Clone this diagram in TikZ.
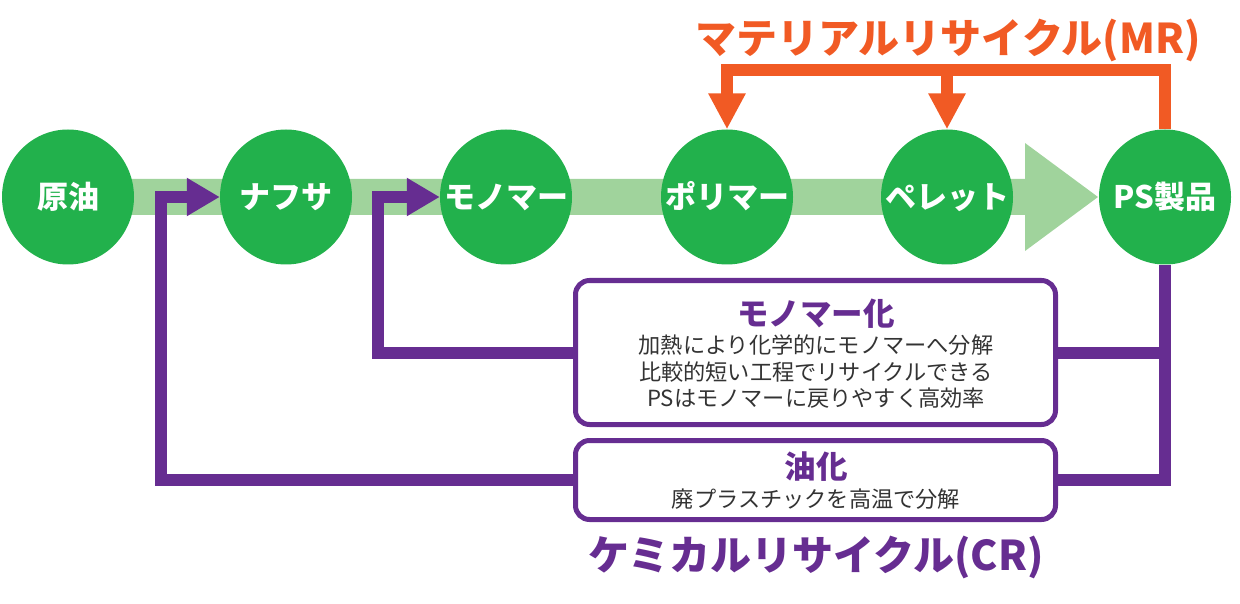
\documentclass[tikz,border=0pt]{standalone}
\usepackage{fontspec}
\setmainfont{Noto Sans CJK JP}
\usetikzlibrary{arrows.meta,shapes.geometric}
\definecolor{cgreen}{RGB}{34,177,76}
\definecolor{lgreen}{RGB}{160,211,156}
\definecolor{cpurple}{RGB}{102,45,145}
\definecolor{corange}{RGB}{241,90,36}
\definecolor{ctext}{RGB}{51,51,51}
\begin{document}
\begin{tikzpicture}[x=1pt,y=-1pt,
  stage/.style={ellipse, fill=cgreen, minimum width=132pt, minimum height=135pt, inner sep=0pt},
  stagetext/.style={text=white, font=\fontsize{31}{31}\selectfont\bfseries, inner sep=0pt, anchor=base},
  recbox/.style={draw=cpurple, line width=5pt, fill=white, rounded corners=14pt, inner sep=0pt, minimum width=480pt},
  bhead/.style={text=cpurple, font=\fontsize{31.5}{31.5}\selectfont\bfseries, inner sep=0pt, anchor=base},
  btext/.style={text=ctext, font=\fontsize{22.2}{22.2}\selectfont, inner sep=0pt, anchor=base},
  titletext/.style={font=\fontsize{41}{41}\selectfont\bfseries, inner sep=0pt, anchor=base},
  pline/.style={draw=cpurple, line width=12pt},
  oline/.style={draw=corange, line width=11.5pt},
  parrow/.style={-{Triangle[length=33pt,width=36pt]}},
  oarrow/.style={-{Triangle[length=36pt,width=35pt]}}
]
\useasboundingbox (0,0) rectangle (1240,604);
% main flow band
\fill[lgreen] (100,179) -- (1025,179) -- (1025,143) -- (1098,197) -- (1025,251) -- (1025,215) -- (100,215) -- cycle;
% stages
\node[stage] (s1) at (68,197) {};
\node[stage] (s2) at (286,197) {};
\node[stage] (s3) at (506,197) {};
\node[stage] (s4) at (727,197) {};
\node[stage] (s5) at (947,197) {};
\node[stage] (s6) at (1165,197) {};
\node[stagetext] (t1) at (68,209) {原油};
\node[stagetext] (t2) at (286,209) {ナフサ};
\node[stagetext] (t3) at (506,209) {モノマー};
\node[stagetext] (t4) at (727,209) {ポリマー};
\node[stagetext] (t5) at (947,209) {ペレット};
\node[stagetext] (t6) at (1165,209) {PS製品};
% boxes
\node[recbox, minimum height=144pt] (b1) at (815.5,352.5) {};
\node[recbox, minimum height=79pt] (b2) at (815.5,480) {};
\node[bhead] (h1) at (816,325) {モノマー化};
\node[btext] (l1) at (816,353.5) {加熱により化学的にモノマーへ分解};
\node[btext] (l2) at (816,380.5) {比較的短い工程でリサイクルできる};
\node[btext] (l3) at (816,406.5) {PSはモノマーに戻りやすく高効率};
\node[bhead] (h2) at (816,478) {油化};
\node[btext] (l4) at (816,507.5) {廃プラスチックを高温で分解};
% titles
\node[titletext, text=corange] (mr) at (948,54) {マテリアルリサイクル(MR)};
\node[titletext, text=cpurple] (cr) at (816,570) {ケミカルリサイクル(CR)};
% material recycle
\coordinate (mtop) at (727,70);
\draw[oline, oarrow] (s6.north) |- (mtop) -- (s4.north);
\draw[oline, oarrow] (s5.north |- mtop) -- (s5.north);
% chemical recycle
\coordinate (k2) at (378,197);
\coordinate (k1) at (161,197);
\draw[pline] (s6.south) |- (b2.east);
\draw[pline] (b1.east) -- (b1.east -| s6.south);
\draw[pline, parrow] (b1.west) -| (k2) -- (s3.west);
\draw[pline, parrow] (b2.west) -| (k1) -- (s2.west);
\end{tikzpicture}
\end{document}
